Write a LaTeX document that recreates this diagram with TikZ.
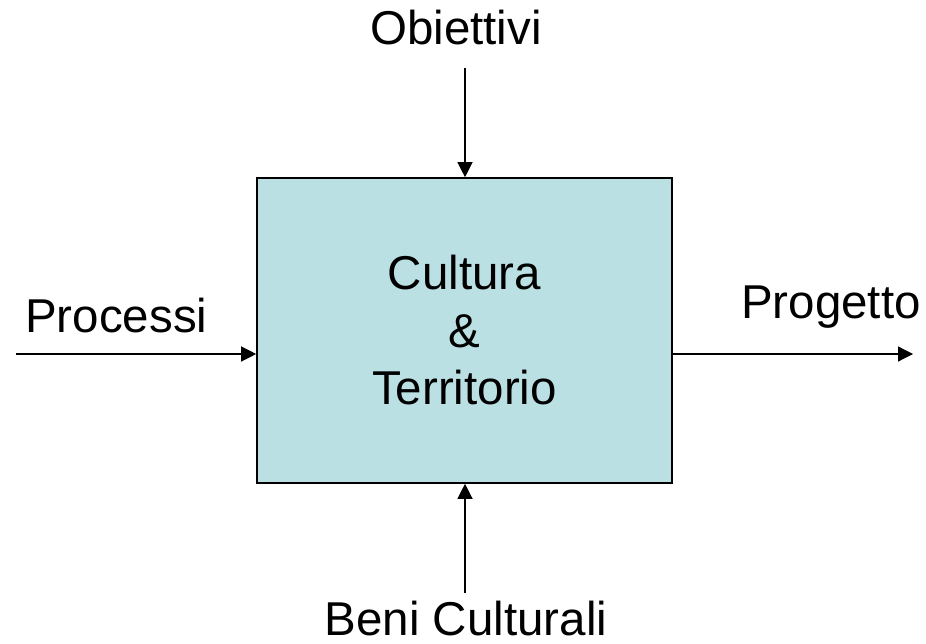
\documentclass[tikz,border=0pt]{standalone}
\usepackage{fontspec}
\setmainfont{Liberation Sans}
\usepackage{tikz}
\usetikzlibrary{arrows.meta}
\usepackage{color}
\definecolor{box-blue}{RGB}{187,224,227}

\begin{document}
\begin{tikzpicture}[x=1pt,y=-1pt,
		lbl/.style={anchor=base, inner sep=0pt, font=\fontsize{47.5}{57.5}\selectfont},
		flow/.style={-{Triangle[length=15pt,width=15pt]}, line width=1.2pt}]

			\useasboundingbox (0,0) rectangle (926,644);

			\node[draw, line width=1.6pt, fill=box-blue, minimum width=415pt, minimum height=305pt,
				inner sep=0pt, align=center, font=\fontsize{47.5}{57.5}\selectfont] (box) at (464.5,330.5)
				{Cultura\\\&\\Territorio};

			\node[lbl] (obiettivi) at (456,45) {Obiettivi};
			\node[lbl] (beni) at (466,635) {Beni Culturali};
			\node[lbl, anchor=base west] (processi) at (25,332) {Processi};
			\node[lbl, anchor=base west] (progetto) at (741,318) {Progetto};

			\coordinate (topin) at (465,68);
			\coordinate (botin) at (465,593);
			\coordinate (leftin) at (16,354);
			\coordinate (rightout) at (913,354);

%			arrows into and out of the box
			\draw[flow] (topin) -- (topin |- box.north);
			\draw[flow] (botin) -- (botin |- box.south);
			\draw[flow] (leftin) -- (leftin -| box.west);
			\draw[flow] (rightout -| box.east) -- (rightout);
		\end{tikzpicture}
\end{document}
